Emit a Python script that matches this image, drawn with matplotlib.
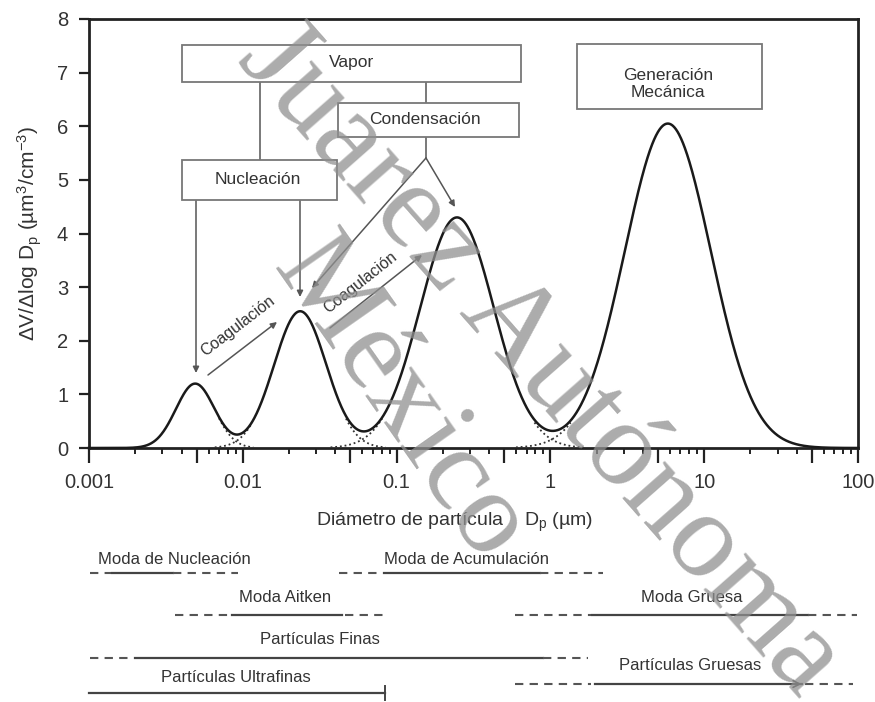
import numpy as np
import matplotlib
matplotlib.use('Agg')
import matplotlib.pyplot as plt
from matplotlib.patches import Rectangle
from matplotlib.transforms import blended_transform_factory

plt.rcParams['font.family'] = ['Liberation Sans', 'DejaVu Sans']
plt.rcParams['mathtext.default'] = 'regular'

# ---------------- data ----------------
mode_names = ['Nucleación', 'Aitken', 'Acumulación', 'Gruesa']
mode_dp = [0.0049, 0.0236, 0.247, 5.8]        # peak diameter (µm)
mode_peak = [1.20, 2.55, 4.30, 6.05]          # peak dV/dlogDp
mode_sigma = [0.125, 0.17, 0.24, 0.28]        # width (decades)

x_ticks = [0.001, 0.01, 0.1, 1, 10, 100]
x_tick_labels = ['0.001', '0.01', '0.1', '1', '10', '100']
x_mid_ticks = [0.005, 0.05, 0.5, 5, 50]
y_ticks = [0, 1, 2, 3, 4, 5, 6, 7, 8]

# size ranges (µm): (start, end, style)
rng_nucleacion = [(0.00102, 0.0014, 'd'), (0.00142, 0.0035, 's'), (0.0035, 0.0093, 'd')]
rng_acumulacion = [(0.042, 0.078, 'd'), (0.083, 0.86, 's'), (0.86, 2.2, 'd')]
rng_aitken = [(0.0036, 0.0082, 'd'), (0.0085, 0.044, 's'), (0.046, 0.087, 'd')]
rng_gruesa = [(0.59, 1.85, 'd'), (1.87, 47, 's'), (47, 98, 'd')]
rng_finas = [(0.00102, 0.0019, 'd'), (0.002, 0.9, 's'), (0.9, 1.75, 'd')]
rng_ultrafinas = [(0.001, 0.084, 's')]
rng_gruesas = [(0.59, 1.85, 'd'), (1.95, 43, 's'), (45, 93, 'd')]

# ---------------- figure ----------------
W, H = 875, 702
fig = plt.figure(figsize=(W / 100, H / 100), dpi=100)

def fp(x, y):
    return (x / W, 1 - y / H)

ax = fig.add_axes([89 / W, 1 - 448 / H, 769 / W, 429 / H])
ax.set_xscale('log')
ax.set_xlim(1e-3, 1e2)
ax.set_ylim(0, 8)

L = np.linspace(-3, 2, 2000)
D = 10 ** L
modes = [p * np.exp(-0.5 * ((L - np.log10(d)) / s) ** 2)
         for d, p, s in zip(mode_dp, mode_peak, mode_sigma)]
total = np.sum(modes, axis=0)
ax.plot(D, total, color='#1a1a1a', lw=1.8, zorder=4, clip_on=False)

# dotted mode tails near the minima
for i in range(len(modes) - 1):
    a = np.log10(mode_dp[i]); b = np.log10(mode_dp[i + 1])
    sel = (L > a) & (L < b)
    dip = L[sel][np.argmin(total[sel])]
    for j, lo, hi in ((i, dip - 0.12, dip + 0.3), (i + 1, dip - 0.3, dip + 0.12)):
        m = modes[j]
        msk = (L > lo) & (L < hi) & (m > 0.012) & (m < 0.97 * total)
        ax.plot(np.where(msk, D, np.nan), np.where(msk, m, np.nan), ls=(0, (1, 1.6)),
                color='#333333', lw=1.3, zorder=3)

# axes styling
for sp in ax.spines.values():
    sp.set_linewidth(2.0)
    sp.set_color('#222222')
major = sorted(x_ticks + x_mid_ticks)
ax.set_xticks(major)
ax.set_xticklabels([x_tick_labels[x_ticks.index(t)] if t in x_ticks else '' for t in major])
minors = [m * 10 ** e for e in range(-3, 2) for m in (2, 3, 4, 6, 7, 8, 9)]
ax.set_xticks(minors, minor=True)
ax.xaxis.set_minor_formatter(plt.NullFormatter())
ax.set_yticks(y_ticks)
ax.tick_params(axis='x', which='major', direction='out', length=11, width=1.6,
               labelsize=14.5, pad=7, colors='#222222', labelcolor='#333333')
ax.tick_params(axis='x', which='minor', direction='out', length=4, width=1.4, colors='#222222')
ax.tick_params(axis='y', direction='out', length=7, width=1.6, labelsize=14.5, pad=8,
               colors='#222222', labelcolor='#333333')

ax.set_ylabel('ΔV/Δlog D$_p$ (µm$^3$/cm$^{-3}$)', fontsize=15, color='#333333')
ax.yaxis.set_label_coords(-0.058, 0.50)
ax.set_xlabel('Diámetro de partícula    D$_p$ (µm)', fontsize=14, color='#333333')
ax.xaxis.set_label_coords(0.475, -0.147)

# ---------------- boxes ----------------
def box(x0, y0, x1, y1):
    (fx0, fy1) = fp(x0, y0); (fx1, fy0) = fp(x1, y1)
    fig.add_artist(Rectangle((fx0, fy0), fx1 - fx0, fy1 - fy0, transform=fig.transFigure,
                             facecolor='white', edgecolor='#777777', lw=1.3, zorder=5))

def line(x0, y0, x1, y1, arrow=False):
    ax.annotate('', xy=fp(x1, y1), xytext=fp(x0, y0), xycoords='figure fraction',
                textcoords='figure fraction', zorder=6,
                arrowprops=dict(arrowstyle='-|>' if arrow else '-', color='#555555', lw=1.1,
                                mutation_scale=9, shrinkA=0, shrinkB=0))

def label(x, y, s, size=12.5, rot=0):
    fig.text(*fp(x, y), s, ha='center', va='center', fontsize=size, color='#333333',
             rotation=rot, rotation_mode='anchor', zorder=7)

box(182, 45, 521, 82)
box(182, 160, 337, 200)
box(338, 103, 519, 137)
box(577, 44, 762, 109)
label(352, 63, 'Vapor')
label(258, 180, 'Nucleación')
label(425, 119, 'Condensación')
label(668, 84, 'Generación\nMecánica')

line(260, 82, 260, 160)
line(426, 82, 426, 103)
line(426, 137, 426, 158)
line(426, 158, 455, 207, True)
line(426, 158, 312, 288, True)
line(196, 200, 196, 373, True)
line(300, 200, 300, 297, True)
line(208, 375, 277, 322, True)
line(330, 328, 422, 255, True)
label(238, 326, 'Coagulación', 11.5, 37.5)
label(360, 283, 'Coagulación', 11.5, 38.4)

# ---------------- size range bars ----------------
tr = blended_transform_factory(ax.transData, fig.transFigure)

def rng_row(segs, ypx, bar=False, arrow=False):
    y = 1 - ypx / H
    for a, b, st in segs:
        if st == 'd':
            ax.plot([a, b], [y, y], transform=tr, clip_on=False, color='#555555',
                     lw=1.5, ls=(0, (4, 3)))
        else:
            ax.plot([a, b], [y, y], transform=tr, clip_on=False, color='#444444', lw=1.6)
            if bar:
                ax.plot([b, b], [y - 7 / H, y + 7 / H], transform=tr, clip_on=False,
                        color='#444444', lw=1.4)
            if arrow:
                ax.annotate('', xy=(b, y), xytext=(b * 0.8, y), xycoords=tr,
                            textcoords=tr, annotation_clip=False,
                            arrowprops=dict(arrowstyle='->', color='#444444', lw=1.2,
                                            mutation_scale=12, shrinkA=0, shrinkB=0))

rng_row(rng_nucleacion, 573)
rng_row(rng_acumulacion, 573)
rng_row(rng_aitken, 615)
rng_row(rng_gruesa, 615)
rng_row(rng_finas, 658)
rng_row(rng_ultrafinas, 693, bar=True)
rng_row(rng_gruesas, 684, arrow=True)

label(174, 559, 'Moda de Nucleación', 12)
label(466, 559, 'Moda de Acumulación', 12)
label(285, 597, 'Moda Aitken', 12)
label(692, 597, 'Moda Gruesa', 12)
label(320, 640, 'Partículas Finas', 12)
label(236, 678, 'Partículas Ultrafinas', 12)
label(690, 665, 'Partículas Gruesas', 12)

# ---------------- watermark ----------------
fig.text(*fp(540, 360), 'Juarez Autónoma', fontsize=88, family='Liberation Serif',
         color='#909090', alpha=0.75, rotation=-48.6, rotation_mode='anchor',
         ha='center', va='center', zorder=10)
fig.text(*fp(400, 400), 'México', fontsize=86, family='Liberation Serif',
         color='#909090', alpha=0.75, rotation=-55, rotation_mode='anchor',
         ha='center', va='center', zorder=10)

fig.savefig('out.png', dpi=100, facecolor='white')
